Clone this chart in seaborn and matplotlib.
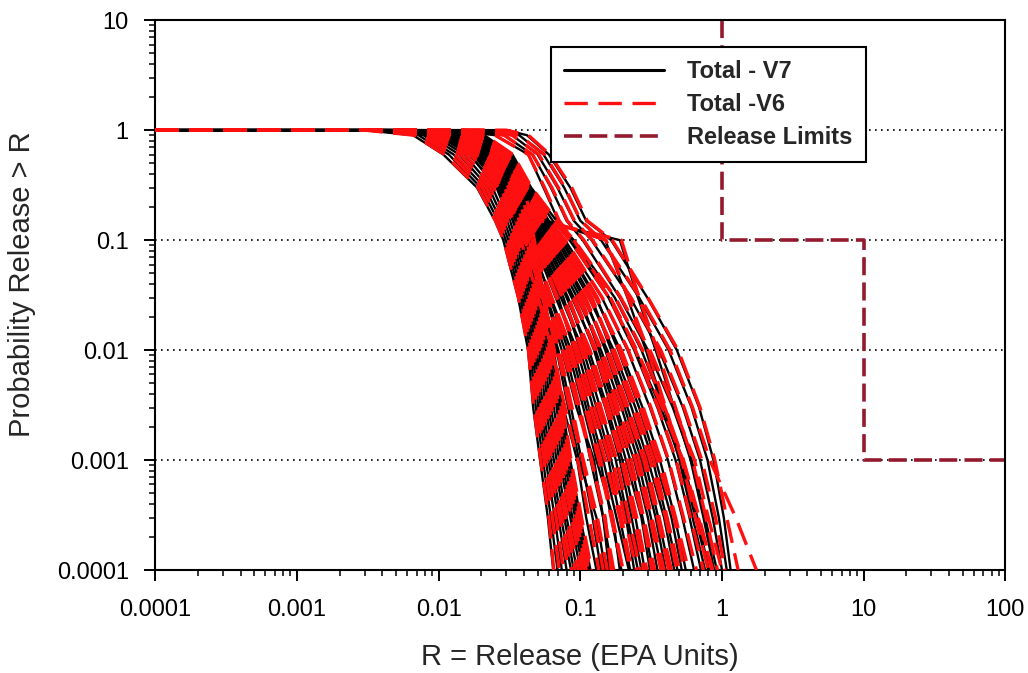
import matplotlib
matplotlib.use("Agg")
import matplotlib.pyplot as plt
import seaborn as sns
import pandas as pd
from matplotlib.lines import Line2D
from matplotlib.ticker import LogLocator, NullFormatter

# ---------------- data ----------------
R_START = 0.0001  # every curve starts at probability 1 here
P_LEVELS = [1.0, 0.9, 0.6, 0.3, 0.15, 0.1, 0.03, 0.01, 0.003, 0.001, 0.0003, 0.0001]

# release R at each probability level, one list per realisation
V7_BAND = [
    [0.0030, 0.0066, 0.0108, 0.0187, 0.0250, 0.0286, 0.0364, 0.0428, 0.0465, 0.0520, 0.0590, 0.0644],
    [0.0032, 0.0072, 0.0118, 0.0199, 0.0263, 0.0298, 0.0377, 0.0443, 0.0485, 0.0545, 0.0620, 0.0690],
    [0.0034, 0.0078, 0.0128, 0.0212, 0.0276, 0.0311, 0.0390, 0.0459, 0.0505, 0.0570, 0.0660, 0.0740],
    [0.0036, 0.0085, 0.0140, 0.0226, 0.0290, 0.0324, 0.0404, 0.0475, 0.0525, 0.0595, 0.0700, 0.0800],
    [0.0038, 0.0092, 0.0152, 0.0240, 0.0304, 0.0338, 0.0418, 0.0492, 0.0545, 0.0620, 0.0730, 0.0860],
    [0.0040, 0.0100, 0.0166, 0.0256, 0.0319, 0.0352, 0.0433, 0.0510, 0.0570, 0.0650, 0.0770, 0.0900],
    [0.0042, 0.0108, 0.0180, 0.0272, 0.0334, 0.0367, 0.0448, 0.0528, 0.0595, 0.0680, 0.0800, 0.0950],
    [0.0045, 0.0118, 0.0196, 0.0290, 0.0350, 0.0383, 0.0464, 0.0546, 0.0620, 0.0710, 0.0850, 0.1000],
    [0.0048, 0.0128, 0.0214, 0.0309, 0.0367, 0.0399, 0.0480, 0.0565, 0.0650, 0.0740, 0.0880, 0.1050],
    [0.0050, 0.0139, 0.0233, 0.0329, 0.0385, 0.0415, 0.0497, 0.0585, 0.0680, 0.0770, 0.0920, 0.1080],
    [0.0053, 0.0150, 0.0253, 0.0351, 0.0404, 0.0433, 0.0514, 0.0605, 0.0700, 0.0800, 0.0950, 0.1120],
    [0.0056, 0.0162, 0.0276, 0.0374, 0.0424, 0.0451, 0.0532, 0.0627, 0.0725, 0.0830, 0.0980, 0.1150],
    [0.0060, 0.0175, 0.0300, 0.0400, 0.0445, 0.0470, 0.0550, 0.0650, 0.0750, 0.0850, 0.1000, 0.1180],
]
V7_MID = [
    [0.0038, 0.0098, 0.0165, 0.0262, 0.0335, 0.0375, 0.0500, 0.0620, 0.0760, 0.0950, 0.1100, 0.1300],
    [0.0041, 0.0108, 0.0180, 0.0282, 0.0358, 0.0405, 0.0530, 0.0680, 0.0820, 0.0980, 0.1300, 0.1500],
    [0.0044, 0.0116, 0.0193, 0.0298, 0.0372, 0.0425, 0.0570, 0.0740, 0.0940, 0.1250, 0.1450, 0.1600],
    [0.0046, 0.0124, 0.0205, 0.0312, 0.0390, 0.0450, 0.0610, 0.0820, 0.1050, 0.1300, 0.1700, 0.1900],
    [0.0049, 0.0132, 0.0216, 0.0328, 0.0410, 0.0478, 0.0700, 0.0900, 0.1150, 0.1450, 0.1800, 0.2200],
    [0.0051, 0.0140, 0.0228, 0.0342, 0.0430, 0.0505, 0.0760, 0.1000, 0.1300, 0.1650, 0.2100, 0.2400],
    [0.0054, 0.0148, 0.0242, 0.0357, 0.0450, 0.0535, 0.0820, 0.1100, 0.1500, 0.1900, 0.2300, 0.2700],
    [0.0057, 0.0156, 0.0254, 0.0372, 0.0472, 0.0570, 0.0900, 0.1250, 0.1650, 0.2100, 0.2700, 0.3100],
    [0.0060, 0.0164, 0.0266, 0.0388, 0.0498, 0.0610, 0.1000, 0.1350, 0.1800, 0.2400, 0.3000, 0.3500],
    [0.0063, 0.0172, 0.0278, 0.0402, 0.0525, 0.0655, 0.1080, 0.1500, 0.2050, 0.2700, 0.3400, 0.4000],
    [0.0066, 0.0180, 0.0290, 0.0415, 0.0555, 0.0705, 0.1200, 0.1650, 0.2300, 0.3000, 0.3900, 0.4600],
    [0.0069, 0.0188, 0.0302, 0.0425, 0.0585, 0.0755, 0.1300, 0.1850, 0.2600, 0.3400, 0.4400, 0.5200],
]
V7_SPREAD = [
    [0.0040, 0.0105, 0.0175, 0.0275, 0.0350, 0.0400, 0.0540, 0.0700, 0.0860, 0.1020, 0.1220, 0.1400],
    [0.0042, 0.0112, 0.0185, 0.0290, 0.0365, 0.0420, 0.0580, 0.0780, 0.0980, 0.1180, 0.1450, 0.1680],
    [0.0045, 0.0120, 0.0198, 0.0305, 0.0380, 0.0440, 0.0620, 0.0860, 0.1100, 0.1380, 0.1650, 0.1950],
    [0.0047, 0.0128, 0.0210, 0.0320, 0.0400, 0.0465, 0.0670, 0.0950, 0.1230, 0.1580, 0.1900, 0.2250],
    [0.0050, 0.0136, 0.0222, 0.0335, 0.0420, 0.0490, 0.0730, 0.1050, 0.1380, 0.1780, 0.2150, 0.2550],
    [0.0052, 0.0144, 0.0235, 0.0350, 0.0440, 0.0520, 0.0800, 0.1150, 0.1550, 0.1980, 0.2450, 0.2850],
    [0.0055, 0.0152, 0.0248, 0.0365, 0.0460, 0.0550, 0.0870, 0.1280, 0.1750, 0.2250, 0.2750, 0.3250],
    [0.0058, 0.0160, 0.0260, 0.0380, 0.0485, 0.0590, 0.0950, 0.1400, 0.1950, 0.2550, 0.3150, 0.3750],
    [0.0061, 0.0168, 0.0272, 0.0395, 0.0510, 0.0630, 0.1050, 0.1550, 0.2150, 0.2850, 0.3550, 0.4250],
    [0.0064, 0.0176, 0.0284, 0.0410, 0.0540, 0.0680, 0.1150, 0.1720, 0.2450, 0.3250, 0.4050, 0.4850],
    [0.0067, 0.0184, 0.0296, 0.0420, 0.0570, 0.0730, 0.1280, 0.1920, 0.2750, 0.3650, 0.4650, 0.5550],
    [0.0070, 0.0192, 0.0308, 0.0430, 0.0600, 0.0780, 0.1420, 0.2150, 0.3100, 0.4150, 0.5250, 0.6350],
    [0.0073, 0.0200, 0.0320, 0.0440, 0.0640, 0.0840, 0.1580, 0.2400, 0.3500, 0.4700, 0.5900, 0.7100],
    [0.0076, 0.0210, 0.0332, 0.0450, 0.0680, 0.0900, 0.1750, 0.2700, 0.3900, 0.5300, 0.6700, 0.8100],
]
V7_UPPER = [
    [0.030, 0.042, 0.060, 0.085, 0.110, 0.165, 0.297, 0.480, 0.690, 0.870, 1.030, 1.150],
    [0.024, 0.037, 0.055, 0.077, 0.100, 0.140, 0.260, 0.420, 0.610, 0.790, 0.950, 1.080],
    [0.019, 0.033, 0.050, 0.069, 0.090, 0.120, 0.225, 0.360, 0.530, 0.700, 0.860, 1.000],
    [0.015, 0.029, 0.046, 0.062, 0.080, 0.104, 0.190, 0.300, 0.450, 0.610, 0.760, 0.920],
    [0.012, 0.025, 0.043, 0.055, 0.070, 0.088, 0.160, 0.245, 0.370, 0.510, 0.650, 0.800],
    [0.006, 0.016, 0.027, 0.037, 0.052, 0.190, 0.255, 0.340, 0.460, 0.600, 0.740, 0.880],
    [0.007, 0.018, 0.029, 0.040, 0.058, 0.150, 0.215, 0.290, 0.390, 0.500, 0.620, 0.760],
]

V6_BAND = [
    [0.0030, 0.0067, 0.0110, 0.0190, 0.0252, 0.0288, 0.0366, 0.0430, 0.0470, 0.0525, 0.0600, 0.0650],
    [0.0033, 0.0074, 0.0121, 0.0203, 0.0267, 0.0302, 0.0381, 0.0448, 0.0492, 0.0555, 0.0635, 0.0710],
    [0.0035, 0.0080, 0.0131, 0.0216, 0.0280, 0.0315, 0.0394, 0.0463, 0.0512, 0.0580, 0.0675, 0.0760],
    [0.0037, 0.0087, 0.0143, 0.0230, 0.0294, 0.0328, 0.0408, 0.0480, 0.0532, 0.0605, 0.0715, 0.0820],
    [0.0039, 0.0094, 0.0155, 0.0244, 0.0308, 0.0342, 0.0422, 0.0497, 0.0552, 0.0630, 0.0745, 0.0870],
    [0.0041, 0.0102, 0.0169, 0.0260, 0.0323, 0.0356, 0.0437, 0.0515, 0.0578, 0.0660, 0.0785, 0.0920],
    [0.0043, 0.0110, 0.0183, 0.0276, 0.0338, 0.0371, 0.0452, 0.0533, 0.0603, 0.0690, 0.0815, 0.0970],
    [0.0046, 0.0120, 0.0199, 0.0294, 0.0354, 0.0387, 0.0468, 0.0551, 0.0628, 0.0720, 0.0865, 0.1020],
    [0.0049, 0.0130, 0.0217, 0.0313, 0.0371, 0.0403, 0.0484, 0.0570, 0.0658, 0.0750, 0.0895, 0.1070],
    [0.0051, 0.0141, 0.0236, 0.0333, 0.0389, 0.0419, 0.0501, 0.0590, 0.0688, 0.0780, 0.0935, 0.1100],
    [0.0054, 0.0152, 0.0256, 0.0355, 0.0408, 0.0437, 0.0518, 0.0610, 0.0708, 0.0810, 0.0965, 0.1140],
    [0.0057, 0.0164, 0.0279, 0.0378, 0.0428, 0.0455, 0.0536, 0.0632, 0.0733, 0.0840, 0.0995, 0.1170],
    [0.0061, 0.0177, 0.0303, 0.0404, 0.0449, 0.0474, 0.0554, 0.0655, 0.0758, 0.0860, 0.1020, 0.1200],
]
V6_MID = [
    [0.0039, 0.0100, 0.0168, 0.0266, 0.0338, 0.0380, 0.0505, 0.0630, 0.0780, 0.0960, 0.1150, 0.1350],
    [0.0042, 0.0110, 0.0182, 0.0285, 0.0360, 0.0410, 0.0540, 0.0690, 0.0840, 0.1050, 0.1320, 0.1550],
    [0.0044, 0.0117, 0.0195, 0.0300, 0.0375, 0.0430, 0.0575, 0.0750, 0.0960, 0.1200, 0.1500, 0.1650],
    [0.0047, 0.0125, 0.0207, 0.0315, 0.0393, 0.0455, 0.0620, 0.0830, 0.1080, 0.1350, 0.1650, 0.2000],
    [0.0049, 0.0133, 0.0218, 0.0330, 0.0413, 0.0482, 0.0690, 0.0920, 0.1180, 0.1500, 0.1900, 0.2250],
    [0.0052, 0.0141, 0.0230, 0.0345, 0.0433, 0.0510, 0.0770, 0.1020, 0.1330, 0.1700, 0.2050, 0.2500],
    [0.0055, 0.0149, 0.0244, 0.0360, 0.0454, 0.0540, 0.0830, 0.1120, 0.1520, 0.1950, 0.2400, 0.2800],
    [0.0058, 0.0157, 0.0256, 0.0375, 0.0476, 0.0575, 0.0910, 0.1270, 0.1680, 0.2150, 0.2750, 0.3200],
    [0.0061, 0.0165, 0.0268, 0.0390, 0.0502, 0.0615, 0.1010, 0.1380, 0.1850, 0.2450, 0.3100, 0.3700],
    [0.0064, 0.0173, 0.0280, 0.0404, 0.0530, 0.0660, 0.1090, 0.1530, 0.2100, 0.2800, 0.3500, 0.4200],
    [0.0067, 0.0181, 0.0292, 0.0417, 0.0560, 0.0710, 0.1210, 0.1680, 0.2350, 0.3100, 0.4000, 0.4800],
    [0.0070, 0.0189, 0.0304, 0.0427, 0.0590, 0.0760, 0.1320, 0.1880, 0.2650, 0.3500, 0.4600, 0.5400],
]
V6_SPREAD = [
    [0.0041, 0.0107, 0.0178, 0.0280, 0.0355, 0.0405, 0.0550, 0.0710, 0.0875, 0.1040, 0.1250, 0.1450],
    [0.0043, 0.0114, 0.0188, 0.0294, 0.0370, 0.0425, 0.0590, 0.0790, 0.0990, 0.1200, 0.1480, 0.1720],
    [0.0046, 0.0122, 0.0201, 0.0309, 0.0385, 0.0446, 0.0630, 0.0870, 0.1120, 0.1400, 0.1690, 0.2000],
    [0.0048, 0.0130, 0.0213, 0.0324, 0.0405, 0.0470, 0.0680, 0.0965, 0.1250, 0.1610, 0.1950, 0.2300],
    [0.0051, 0.0138, 0.0225, 0.0339, 0.0425, 0.0495, 0.0745, 0.1070, 0.1400, 0.1810, 0.2200, 0.2650],
    [0.0053, 0.0146, 0.0238, 0.0354, 0.0445, 0.0525, 0.0815, 0.1170, 0.1580, 0.2020, 0.2500, 0.2950],
    [0.0056, 0.0154, 0.0251, 0.0369, 0.0466, 0.0557, 0.0885, 0.1300, 0.1780, 0.2290, 0.2800, 0.3350],
    [0.0059, 0.0162, 0.0263, 0.0384, 0.0490, 0.0595, 0.0965, 0.1420, 0.1980, 0.2600, 0.3200, 0.3900],
    [0.0062, 0.0170, 0.0275, 0.0399, 0.0515, 0.0635, 0.1060, 0.1570, 0.2180, 0.2900, 0.3600, 0.4400],
    [0.0065, 0.0178, 0.0287, 0.0413, 0.0545, 0.0685, 0.1160, 0.1740, 0.2470, 0.3300, 0.4100, 0.5000],
    [0.0068, 0.0186, 0.0299, 0.0423, 0.0575, 0.0735, 0.1290, 0.1950, 0.2780, 0.3700, 0.4700, 0.5800],
    [0.0071, 0.0194, 0.0311, 0.0433, 0.0605, 0.0785, 0.1430, 0.2180, 0.3150, 0.4200, 0.5350, 0.6600],
    [0.0074, 0.0202, 0.0323, 0.0443, 0.0645, 0.0845, 0.1600, 0.2450, 0.3550, 0.4750, 0.6000, 0.7400],
    [0.0077, 0.0212, 0.0335, 0.0453, 0.0685, 0.0905, 0.1770, 0.2750, 0.3950, 0.5350, 0.6900, 0.8600],
]
V6_UPPER = [
    [0.030, 0.043, 0.061, 0.087, 0.112, 0.168, 0.300, 0.490, 0.700, 0.890, 1.080, 1.300],
    [0.024, 0.037, 0.056, 0.078, 0.101, 0.142, 0.265, 0.430, 0.620, 0.820, 1.250, 1.750],
    [0.019, 0.033, 0.051, 0.070, 0.091, 0.122, 0.228, 0.370, 0.540, 0.720, 0.900, 1.050],
    [0.015, 0.029, 0.046, 0.063, 0.081, 0.106, 0.193, 0.310, 0.460, 0.640, 0.800, 1.000],
    [0.012, 0.025, 0.043, 0.056, 0.071, 0.090, 0.163, 0.250, 0.380, 0.530, 0.680, 0.850],
    [0.006, 0.016, 0.027, 0.037, 0.053, 0.195, 0.260, 0.350, 0.470, 0.620, 0.770, 0.930],
    [0.007, 0.018, 0.029, 0.040, 0.059, 0.152, 0.218, 0.300, 0.400, 0.520, 0.650, 0.800],
]

LIMIT_R = [1, 1, 10, 10, 100]
LIMIT_P = [10, 0.1, 0.1, 0.001, 0.001]

GRID_P = [1, 0.1, 0.01, 0.001]
X_TICKS = [0.0001, 0.001, 0.01, 0.1, 1, 10, 100]
X_TICK_LABELS = ["0.0001", "0.001", "0.01", "0.1", "1", "10", "100"]
Y_TICKS = [0.0001, 0.001, 0.01, 0.1, 1, 10]
Y_TICK_LABELS = ["0.0001", "0.001", "0.01", "0.1", "1", "10"]

LABELS = ["Total - V7", "Total -V6", "Release Limits"]


def build_frame(groups, series):
    rows = []
    cid = 0
    for group in groups:
        for curve in group:
            rows.append((series, cid, R_START, 1.0))
            for r, p in zip(curve, P_LEVELS):
                rows.append((series, cid, r, p))
            cid += 1
    return pd.DataFrame(rows, columns=["series", "curve", "R", "P"])


df7 = build_frame([V7_BAND, V7_MID, V7_SPREAD, V7_UPPER], "V7")
df6 = build_frame([V6_BAND, V6_MID, V6_SPREAD, V6_UPPER], "V6")
dflim = pd.DataFrame({"R": LIMIT_R, "P": LIMIT_P, "curve": 0})

# ---------------- figure ----------------
sns.set_style("ticks")
plt.rcParams["font.family"] = ["Liberation Sans", "DejaVu Sans"]

fig, ax = plt.subplots(figsize=(10.28, 6.73), dpi=100)
fig.subplots_adjust(left=0.151, right=0.978, top=0.970, bottom=0.153)
ax.set_xscale("log")
ax.set_yscale("log")

for gp in GRID_P:
    ax.axhline(gp, color="black", lw=1.2, ls=(0, (1.0, 2.6)), zorder=1)

RED = "#ff1010"
MAROON = "#931a2e"
V6_DASH = (0, (7.0, 3.2))
LIM_DASH = (0, (5.0, 2.0))

sns.lineplot(data=dflim, x="R", y="P", units="curve", estimator=None, sort=False,
             color=MAROON, lw=2.6, linestyle=LIM_DASH, ax=ax, legend=False, zorder=2)
sns.lineplot(data=df7, x="R", y="P", units="curve", estimator=None, sort=False,
             color="black", lw=1.7, ax=ax, legend=False, zorder=3)
sns.lineplot(data=df6, x="R", y="P", units="curve", estimator=None, sort=False,
             color=RED, lw=2.4, linestyle=V6_DASH, ax=ax, legend=False, zorder=4)

ax.set_xlim(1e-4, 100)
ax.set_ylim(1e-4, 10)

ax.set_xticks(X_TICKS)
ax.set_xticklabels(X_TICK_LABELS)
ax.set_yticks(Y_TICKS)
ax.set_yticklabels(Y_TICK_LABELS)
ax.xaxis.set_minor_locator(LogLocator(base=10, subs=range(2, 10), numticks=20))
ax.yaxis.set_minor_locator(LogLocator(base=10, subs=range(2, 10), numticks=20))
ax.xaxis.set_minor_formatter(NullFormatter())
ax.yaxis.set_minor_formatter(NullFormatter())
ax.tick_params(which="major", direction="out", length=8, width=1.4, labelsize=17,
               colors="black")
ax.tick_params(axis="x", which="major", pad=13)
ax.tick_params(axis="y", which="major", pad=11)
ax.tick_params(which="minor", direction="out", length=4.5, width=1.1, colors="black")
for sp in ax.spines.values():
    sp.set_color("black")
    sp.set_linewidth(1.5)

ax.set_xlabel("R = Release (EPA Units)", fontsize=21, labelpad=16)
ax.set_ylabel("Probability Release > R", fontsize=21)
ax.yaxis.set_label_coords(-0.140, 0.52)
ax.grid(False)

handles = [
    Line2D([], [], color="black", lw=2.2),
    Line2D([], [], color=RED, lw=2.4, linestyle=V6_DASH),
    Line2D([], [], color=MAROON, lw=2.6, linestyle=LIM_DASH),
]
leg = ax.legend(handles, LABELS, loc="upper left", bbox_to_anchor=(0.466, 0.951),
                frameon=True, fancybox=False, edgecolor="black", framealpha=1,
                prop={"size": 17, "weight": "bold"}, handlelength=4.2,
                handletextpad=1.0, labelspacing=0.42, borderpad=0.55,
                borderaxespad=0)
leg.get_frame().set_linewidth(1.5)
leg.set_zorder(10)

fig.savefig("out.png", dpi=100)
